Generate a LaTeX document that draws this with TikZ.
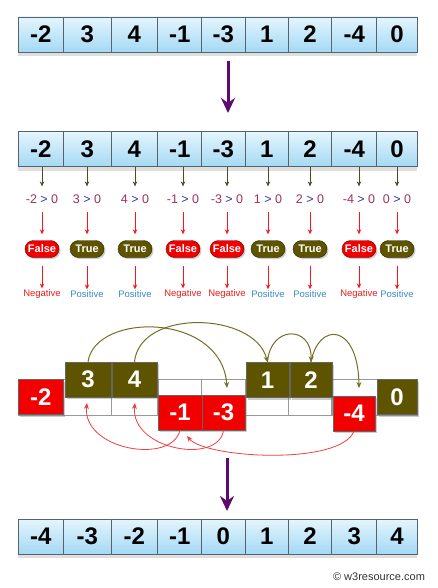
\documentclass[tikz,border=0pt]{standalone}
\usepackage{fontspec}
\setmainfont{Liberation Sans}
\usetikzlibrary{arrows.meta,shadows}
\definecolor{cellline}{HTML}{56626C}
\definecolor{celltop}{HTML}{E4F5FD}
\definecolor{cellbot}{HTML}{A4D9F4}
\definecolor{olivebox}{HTML}{5E5400}
\definecolor{redbox}{HTML}{F20000}
\definecolor{flowpurple}{HTML}{5E0A6E}
\definecolor{cmpnum}{HTML}{9E3060}
\definecolor{cmpop}{HTML}{343499}
\definecolor{posblue}{HTML}{3A8AC4}
\definecolor{negred}{HTML}{EE1C1C}
\definecolor{darrow}{HTML}{4C4A2A}
\tikzset{
  cell/.style={draw=cellline, line width=0.8pt, top color=celltop, bottom color=cellbot,
               minimum height=35pt, inner sep=0pt, font=\fontsize{24}{24}\selectfont\bfseries,
               drop shadow={shadow xshift=0pt, shadow yshift=-4pt, opacity=.25}},
  slotcell/.style={draw=gray!80, fill=white, minimum height=36pt, inner sep=0pt},
  numbox/.style={minimum height=35pt, inner sep=0pt, text=white, draw=black!60,
                 font=\fontsize{24}{24}\selectfont\bfseries,
                 drop shadow={shadow xshift=2pt, shadow yshift=-2pt, opacity=.4}},
  posbox/.style={numbox, fill=olivebox},
  negbox/.style={numbox, fill=redbox},
  cmptext/.style={inner sep=0pt, font=\fontsize{12.5}{12.5}\selectfont},
  pill/.style={minimum width=34pt, minimum height=17pt, rounded corners=8.5pt, inner sep=0pt,
               text=white, font=\fontsize{11}{11}\selectfont\bfseries,
               drop shadow={shadow xshift=1.5pt, shadow yshift=-1.5pt, opacity=.4}},
  signtext/.style={inner sep=0pt, font=\fontsize{9.5}{9.5}\selectfont},
  flowarrow/.style={draw=flowpurple, line width=3pt, -{Stealth[length=15pt,width=14pt]}},
  darkarrow/.style={draw=darrow, line width=1pt, -{Stealth[length=5pt,width=4.5pt]}},
  redarrow/.style={draw=negred, line width=0.8pt, -{Stealth[length=5pt,width=4.5pt]}},
  olivearc/.style={draw=olivebox!85, line width=1pt, -{Stealth[length=6pt,width=5pt]}},
  redarc/.style={draw=negred!85, line width=0.8pt, -{Stealth[length=6pt,width=5pt]}},
}

\begin{document}
\begin{tikzpicture}[x=1pt,y=-1pt]
  \useasboundingbox (0,0) rectangle (437,588);
  % input array
  \foreach \x/\w/\v [count=\i] in {40.8/45/-2,87.2/47.7/3,134.3/46.7/4,179.7/44/-1,223.3/43.3/-3,
                                  266.7/43.3/1,310/43.3/2,354.2/45/-4,397/40.6/0}
    \node[cell, minimum width=\w pt] (a\i) at (\x,34.5) {\v};
  \coordinate (flow1) at (228,61);
  \coordinate (flow2) at (228,113);
  \draw[flowarrow] (flow1) -- (flow2);

  % same array, each value tested
  \foreach \x/\w/\v [count=\i] in {40.8/45/-2,87.2/47.7/3,134.3/46.7/4,179.7/44/-1,223.3/43.3/-3,
                                  266.7/43.3/1,310/43.3/2,354.2/45/-4,397/40.6/0}
    \node[cell, minimum width=\w pt] (b\i) at (\x,149.3) {\v};
  \foreach \x/\v/\pc/\t/\lc/\l [count=\i] in {42/-2/redbox/False/negred/Negative,
      87/3/olivebox/True/posblue/Positive, 135/4/olivebox/True/posblue/Positive,
      183/-1/redbox/False/negred/Negative, 227/-3/redbox/False/negred/Negative,
      268/1/olivebox/True/posblue/Positive, 310/2/olivebox/True/posblue/Positive,
      359/-4/redbox/False/negred/Negative, 397/0/olivebox/True/posblue/Positive}
  {
    \node[cmptext] (c\i) at (\x,199) {\textcolor{cmpnum}{\v} \textcolor{cmpop}{>} \textcolor{cmpnum}{0}};
    \node[pill, fill=\pc, draw=\pc!45!black] (p\i) at (\x,249) {\t};
    \node[signtext, text=\lc] (l\i) at (\x,294) {\l};
    \draw[darkarrow, shorten >=8pt] (c\i.north |- b\i.south) -- (c\i.north);
    \draw[redarrow, shorten <=8pt, shorten >=6pt] (c\i.south) -- (p\i.north);
    \draw[redarrow, shorten <=8pt, shorten >=1pt] (p\i.south) -- (l\i.north);
  }

  % moving the values
  \foreach \x/\w [count=\i] in {40.8/45,87.2/47.7,134.3/46.7,179.7/44,223.3/43.3,
                                266.7/43.3,310/43.3,354.2/45,397/40.6}
    \node[slotcell, minimum width=\w pt] (s\i) at (\x,397) {};
  \node[negbox, minimum width=45pt] (m1) at (40.8,397) {-2};
  \node[posbox, minimum width=46pt] (m2) at (88,379.5) {3};
  \node[posbox, minimum width=45pt] (m3) at (134.5,379.5) {4};
  \node[negbox, minimum width=44pt] (m4) at (180,412.5) {-1};
  \node[negbox, minimum width=43pt] (m5) at (223.5,412.5) {-3};
  \node[posbox, minimum width=43pt] (m6) at (267.5,380) {1};
  \node[posbox, minimum width=42pt] (m7) at (311,380) {2};
  \node[negbox, minimum width=42pt] (m8) at (354,413.5) {-4};
  \node[posbox, minimum width=40pt] (m9) at (397,397) {0};
  \coordinate (up5) at (227,388);
  \coordinate (up8) at (359,388);
  \coordinate (dn2) at (87,403);
  \coordinate (dn3) at (135,403);
  \coordinate (dn4) at (187,436);
  \draw[olivearc] (m2.north) .. controls (95,312) and (222,312) .. (up5);
  \draw[olivearc] (m3.north) .. controls (140,308) and (255,312) .. (m6.north);
  \draw[olivearc] (m6.north) .. controls (270,325) and (312,325) .. (m7.north);
  \draw[olivearc] (m7.north) .. controls (318,322) and (358,322) .. (up8);
  \draw[redarc] (m4.south) .. controls (172,465) and (82,450) .. (dn2);
  \draw[redarc] (m5.south) .. controls (219,465) and (130,450) .. (dn3);
  \draw[redarc] (m8.south) .. controls (340,466) and (205,458) .. (dn4);
  \coordinate (flow3) at (227,458);
  \coordinate (flow4) at (227,511);
  \draw[flowarrow] (flow3) -- (flow4);

  % result
  \foreach \x/\w/\v [count=\i] in {40.8/45/-4,87.2/47.7/-3,134.3/46.7/-2,179.7/44/-1,223.3/43.3/0,
                                  266.7/43.3/1,310/43.3/2,354.2/45/3,397/40.6/4}
    \node[cell, minimum width=\w pt] (d\i) at (\x,536.5) {\v};
  \node[text=black!80, inner sep=0pt, font=\fontsize{11}{11}\selectfont] (credit) at (379,577) {\copyright\ w3resource.com};
\end{tikzpicture}
\end{document}
